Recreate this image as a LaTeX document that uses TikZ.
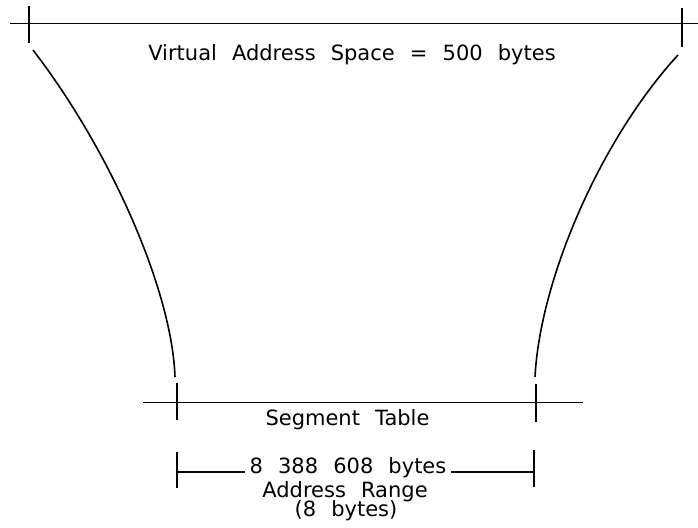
\documentclass[tikz,border=0pt]{standalone}
\usepackage{fontspec}
\setmainfont{DejaVu Sans}
\newcommand\ws{\hspace{0.72em}}
\begin{document}
\begin{tikzpicture}[x=1pt,y=-1pt,line width=1.6pt,
  lbl/.style={font=\fontsize{21}{24}\selectfont, inner sep=0pt, anchor=center}]
\useasboundingbox (0,0) rectangle (698,527);
% top line
\coordinate (tl) at (10,23.5);
\coordinate (tr) at (698,23.5);
\draw (tl) -- (tr);
\coordinate (tla) at (29,6);
\coordinate (tlb) at (29,43);
\coordinate (tra) at (682,8);
\coordinate (trb) at (682,47);
\draw (tla) -- (tlb);
\draw (tra) -- (trb);
% bottom line
\coordinate (bl) at (143,402.5);
\coordinate (br) at (583,402.5);
\draw (bl) -- (br);
\coordinate (bla) at (177,383);
\coordinate (blb) at (177,420);
\coordinate (bra) at (536,384);
\coordinate (brb) at (536,422);
\draw (bla) -- (blb);
\draw (bra) -- (brb);
% curves
\coordinate (lc1) at (33,50);
\coordinate (lc2) at (175,377);
\coordinate (rc1) at (678,55);
\coordinate (rc2) at (535,377);
\draw (lc1) .. controls (110,150) and (172,290) .. (lc2);
\draw (rc1) .. controls (600,140) and (540,280) .. (rc2);
% texts
\node[lbl] (vas) at (352,55) {Virtual\ws Address\ws Space\ws =\ws 500\ws bytes};
\node[lbl] (seg) at (347.5,420) {Segment\ws Table};
\node[lbl,inner xsep=4pt] (rng) at (348,468) {8\ws 388\ws 608\ws bytes};
\node[lbl] (ar) at (345,492) {Address\ws Range};
\node[lbl] (eb) at (346,511) {(8\ws bytes)};
% range line
\coordinate (ra) at (177,452);
\coordinate (rb) at (177,488);
\coordinate (rc) at (534,450);
\coordinate (rd) at (534,487);
\draw (ra) -- (rb);
\draw (rc) -- (rd);
\coordinate (rl) at (177,472);
\coordinate (rr) at (534,472);
\draw (rl) -- (rl -| rng.west);
\draw (rr) -- (rr -| rng.east);
\end{tikzpicture}
\end{document}
